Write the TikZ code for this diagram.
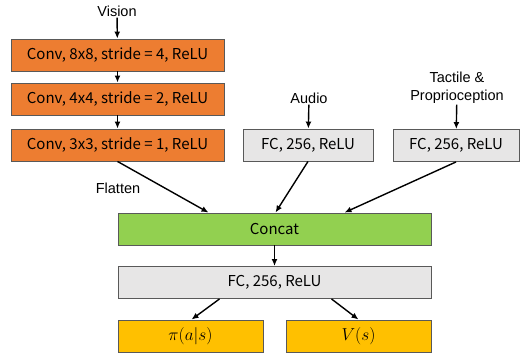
\documentclass[tikz,border=0pt]{standalone}
\usepackage{fontspec}
\setmainfont{Liberation Sans}
\newfontfamily\boxfont{Noto Sans CJK KR}
\usetikzlibrary{arrows.meta}
\usepackage{xcolor}
\definecolor{convorange}{HTML}{ED7D31}
\definecolor{fcgray}{HTML}{E7E6E6}
\definecolor{catgreen}{HTML}{92D050}
\definecolor{outgold}{HTML}{FFC000}

\begin{document}
\begin{tikzpicture}[x=1pt, y=-1pt, >={Latex[length=7pt,width=6pt]},
        layer/.style={draw=black!65, line width=0.9pt, minimum height=32pt, inner sep=0pt, font=\boxfont\fontsize{15}{17}\selectfont},
        conv/.style={layer, fill=convorange, minimum width=213pt},
        fc/.style={layer, fill=fcgray},
        label/.style={font=\fontsize{14.5}{17.5}\selectfont, align=center, inner sep=1pt},
        flow/.style={->, line width=1.4pt}]
        \useasboundingbox (0,0) rectangle (526,355);

        \node[label] (vision) at (117,11) {Vision};
        \node[label] (audio) at (309,98) {Audio};
        \node[label] (tactile) at (457,88) {Tactile \&\\Proprioception};
        \node[label] (flatten) at (118,188) {Flatten};

        \node[conv] (conv1) at (117.5,55) {Conv, 8x8, stride = 4, ReLU};
        \node[conv] (conv2) at (117.5,99) {Conv, 4x4, stride = 2, ReLU};
        \node[conv] (conv3) at (117.5,145) {Conv, 3x3, stride = 1, ReLU};
        \node[fc, minimum width=130pt] (audiofc) at (308,145) {FC, 256, ReLU};
        \node[fc, minimum width=126pt] (tactilefc) at (456,145.5) {FC, 256, ReLU};

        \node[layer, fill=catgreen, minimum width=313pt] (concat) at (274.5,229) {Concat};
        \node[fc, minimum width=313pt] (fc) at (274.5,282.5) {FC, 256, ReLU};
        \node[layer, fill=outgold, minimum width=145pt] (pi) at (190.5,336) {\fontsize{17}{19}\selectfont$\pi(a|s)$};
        \node[layer, fill=outgold, minimum width=145pt] (value) at (358.5,336) {\fontsize{17}{19}\selectfont$V(s)$};

        \draw[flow] (vision) -- (conv1);
        \draw[flow] (conv1) -- (conv2);
        \draw[flow] (conv2) -- (conv3);
        \draw[flow] (audio) -- (audiofc);
        \draw[flow] (tactile) -- (tactilefc);

        \draw[flow] (conv3.south) -- ([xshift=-66pt]concat.north);
        \draw[flow] (audiofc.south) -- ([xshift=1pt]concat.north);
        \draw[flow] (tactilefc.south) -- ([xshift=70pt]concat.north);
        \draw[flow] (concat) -- (fc);
        \draw[flow] ([xshift=-55pt]fc.south) -- ([xshift=1pt]pi.north);
        \draw[flow] ([xshift=57pt]fc.south) -- (value.north);
    \end{tikzpicture}
\end{document}
